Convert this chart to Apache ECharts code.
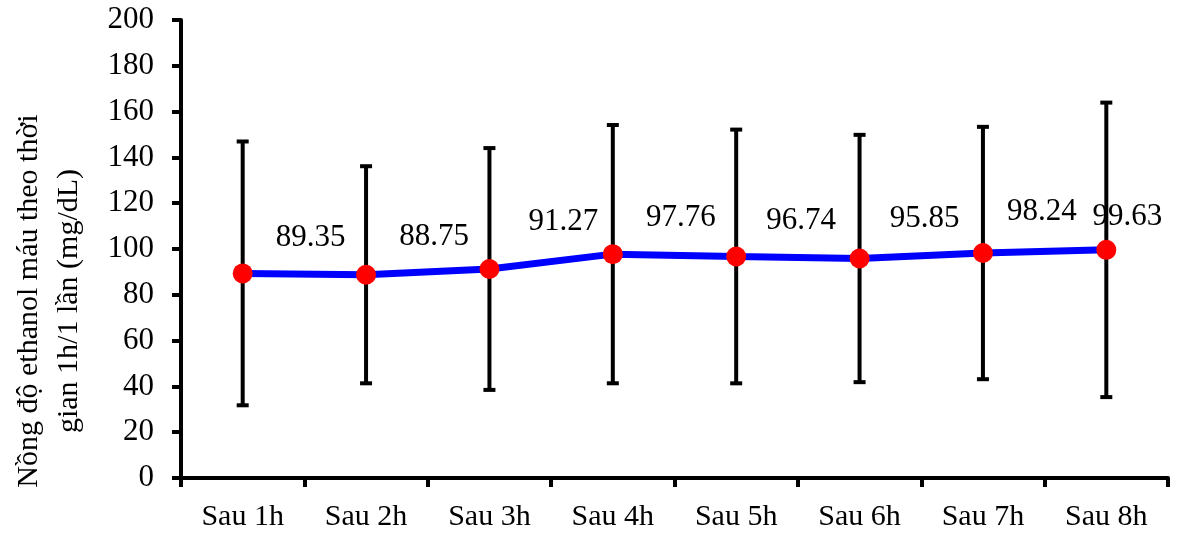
<!DOCTYPE html>
<html>
<head>
<meta charset="utf-8">
<script src="https://cdn.jsdelivr.net/npm/echarts@6/dist/echarts.min.js"></script>
<style>
  html, body { margin: 0; padding: 0; background: #fff; }
  #chart { width: 1177px; height: 534px; }
</style>
</head>
<body>
<div id="chart"></div>
<script>
// Blood ethanol concentration, hourly samples (mean ± SD, mg/dL)
const categories = ['Sau 1h', 'Sau 2h', 'Sau 3h', 'Sau 4h', 'Sau 5h', 'Sau 6h', 'Sau 7h', 'Sau 8h'];
const meanValues = [89.35, 88.75, 91.27, 97.76, 96.74, 95.85, 98.24, 99.63];
const sdValues = [57.6, 47.4, 52.8, 56.4, 55.4, 54.0, 55.1, 64.3];
const yTicks = { min: 0, max: 200, interval: 20 };

// Placement of each value label relative to its point
const labelOffsets = [[68, -36], [68, -38], [74, -47], [68, -36], [65, -36], [65, -40], [59, -41], [21, -33]];

const FONT = '"Liberation Serif", "Times New Roman", serif';

const errorData = meanValues.map((m, i) => [i, m - sdValues[i], m + sdValues[i]]);

const chart = echarts.init(document.getElementById('chart'));
chart.setOption({
  animation: false,
  backgroundColor: '#ffffff',
  grid: { left: 181, right: 9, top: 20, bottom: 56 },
  xAxis: {
    type: 'category',
    data: categories,
    axisLine: { lineStyle: { color: '#000', width: 4 } },
    axisTick: { show: true, length: 9, lineStyle: { color: '#000', width: 4 } },
    axisLabel: { color: '#000', fontFamily: FONT, fontSize: 30, margin: 24 },
    splitLine: { show: false }
  },
  yAxis: {
    type: 'value',
    min: yTicks.min,
    max: yTicks.max,
    interval: yTicks.interval,
    axisLine: { show: true, lineStyle: { color: '#000', width: 4 } },
    axisTick: { show: true, length: 9, lineStyle: { color: '#000', width: 4 } },
    axisLabel: { color: '#000', fontFamily: FONT, fontSize: 31, margin: 27 },
    splitLine: { show: false }
  },
  graphic: [{
    type: 'text',
    x: 49,
    y: 301,
    rotation: Math.PI / 2,
    style: {
      text: 'Nồng độ ethanol máu theo thời\ngian 1h/1 lần (mg/dL)',
      font: '30px ' + FONT,
      fill: '#000',
      align: 'center',
      verticalAlign: 'middle',
      lineHeight: 40
    }
  }],
  series: [
    {
      type: 'custom',
      name: 'SD',
      z: 1,
      data: errorData,
      encode: { x: 0, y: [1, 2] },
      renderItem: function (params, api) {
        const x = api.value(0);
        const lo = api.coord([x, api.value(1)]);
        const hi = api.coord([x, api.value(2)]);
        const half = 6;
        const style = { stroke: '#000', lineWidth: 4, fill: null };
        return {
          type: 'group',
          children: [
            { type: 'line', shape: { x1: lo[0], y1: lo[1], x2: hi[0], y2: hi[1] }, style: style },
            { type: 'line', shape: { x1: hi[0] - half, y1: hi[1], x2: hi[0] + half, y2: hi[1] }, style: style },
            { type: 'line', shape: { x1: lo[0] - half, y1: lo[1], x2: lo[0] + half, y2: lo[1] }, style: style }
          ]
        };
      }
    },
    {
      type: 'line',
      name: 'Mean',
      z: 3,
      data: meanValues.map((v, i) => ({
        value: v,
        label: { offset: labelOffsets[i] }
      })),
      symbol: 'circle',
      symbolSize: 20,
      itemStyle: { color: '#ff0000', borderWidth: 0 },
      lineStyle: { color: '#0000ff', width: 7 },
      label: {
        show: true,
        position: 'inside',
        color: '#000',
        fontFamily: FONT,
        fontSize: 31,
        formatter: p => p.value.toFixed(2)
      }
    }
  ]
});
</script>
</body>
</html>
